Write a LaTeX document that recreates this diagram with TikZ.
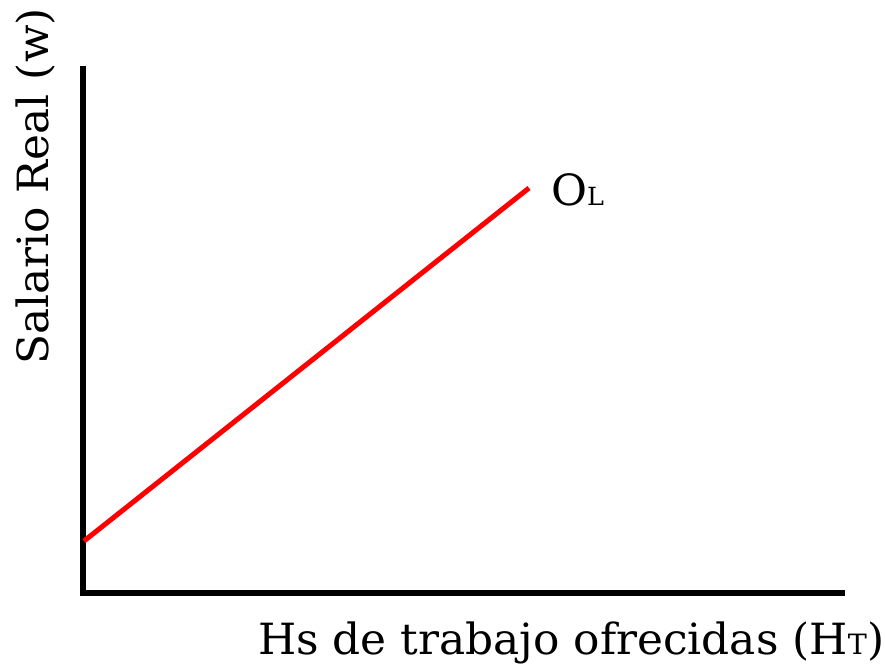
\documentclass[tikz,border=0pt]{standalone}
\usepackage{fontspec}
\setmainfont{DejaVu Serif}[FakeStretch=1.02]
\begin{document}
\begin{tikzpicture}[x=1pt,y=-1pt,
  axis/.style={line width=5.5pt,black},
  supply/.style={line width=5pt,red},
  lbl/.style={inner sep=0pt,font=\fontsize{43}{47}\selectfont}]
\useasboundingbox (0,0) rectangle (885,666);
\coordinate (top) at (83,66);
\coordinate (origin) at (83,593);
\coordinate (right) at (845,593);
\coordinate (s0) at (84,541);
\coordinate (s1) at (529,188);
\draw[axis] (top) -- (origin) -- (right);
\draw[supply] (s0) -- (s1);
\node[lbl,anchor=base west] (ol) at (551,205) {O{\fontsize{25}{27}\selectfont L}};
\node[lbl,anchor=base west] (xl) at (258,654) {Hs de trabajo ofrecidas (H{\fontsize{28}{30}\selectfont T})};
\node[lbl,anchor=base west,rotate=90] (yl) at (48,365) {Salario Real (w)};
\end{tikzpicture}
\end{document}
